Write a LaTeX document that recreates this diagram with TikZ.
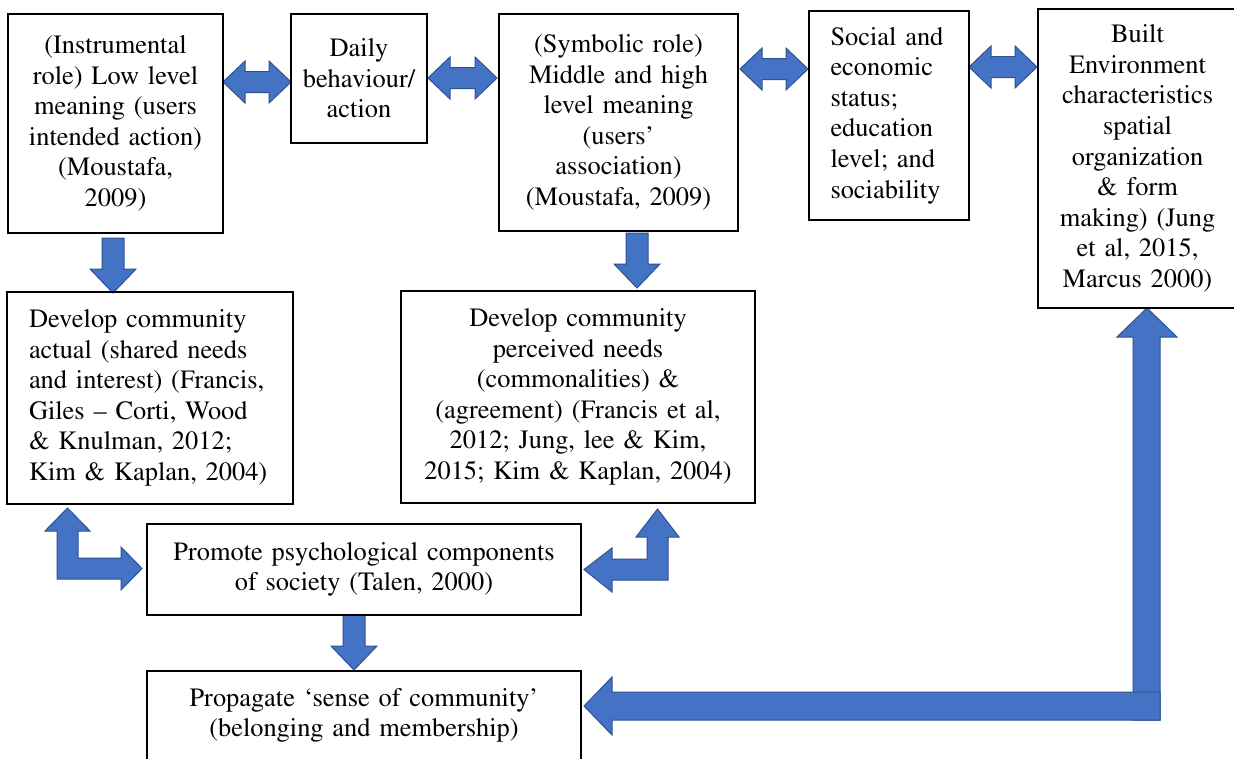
\documentclass[tikz,border=0pt]{standalone}
\usepackage[T1]{fontenc}
\renewcommand{\rmdefault}{ptm}
\definecolor{arrfill}{RGB}{68,114,196}
\definecolor{arrline}{RGB}{47,82,143}
\tikzset{
  box/.style={draw=black, line width=2pt, inner sep=0pt, align=center,
    font=\fontsize{26.4}{30.6}\selectfont},
  barrow/.style={fill=arrfill, draw=arrline, line width=1pt},
}
% horizontal double block arrow: x1, x2, yc
\newcommand\HDouble[3]{%
  \pgfmathsetmacro\hdL{#2-#1}%
  \draw[barrow] (#1,#3) -- ++(22,-21) -- ++(0,10.5) -- ++(\hdL-44,0)
    -- ++(0,-10.5) -- ++(22,21) -- ++(-22,21) -- ++(0,-10.5)
    -- ++(-\hdL+44,0) -- ++(0,10.5) -- cycle;}
% vertical down block arrow: xc, ytop, ytip
\newcommand\VDown[3]{%
  \draw[barrow] (#1-11,#2) -- (#1+11,#2) -- (#1+11,#3-24) -- (#1+23,#3-24)
    -- (#1,#3) -- (#1-23,#3-24) -- (#1-11,#3-24) -- cycle;}
\begin{document}
\begin{tikzpicture}[x=1pt,y=-1pt]
\useasboundingbox (0,0) rectangle (1234,758);
\clip (0,0) rectangle (1234,758);
\fill[white] (0,0) rectangle (1234,758);

% ---- block arrows ----
\HDouble{223}{291}{82}
\HDouble{428}{497}{78}
\HDouble{740}{808}{69}
\HDouble{969}{1037}{67}
\VDown{113}{238}{293}
\VDown{637}{233}{288}
\VDown{354}{615}{670}
% L-shaped arrows
\draw[barrow] (67.5,508) -- (90,531) -- (78,531) -- (78,558) -- (121,558)
  -- (121,547) -- (142,568.5) -- (121,590) -- (121,579) -- (57,579)
  -- (57,531) -- (45,531) -- cycle;
\draw[barrow] (657.5,509) -- (679,537) -- (668,537) -- (668,580) -- (612,580)
  -- (612,592) -- (584,569.5) -- (612,548) -- (612,559) -- (647,559)
  -- (647,537) -- (636,537) -- cycle;
% big feedback arrow
\draw[barrow] (1133,720) -- (1133,337) -- (1117,337) -- (1147,308)
  -- (1177,337) -- (1160,337) -- (1160,720) -- cycle;
\draw[barrow] (1160,692) -- (612,692) -- (612,677) -- (584,706)
  -- (612,735) -- (612,720) -- (1160,720) -- cycle;

% ---- boxes ----
\node[box, minimum width=215pt, minimum height=219pt, text width=205pt] (A) at (115.5,123.5)
  {(Instrumental\\ role) Low level\\ meaning (users\\ intended action)\\ (Moustafa,\\ 2009)};
\node[box, minimum width=136pt, minimum height=129pt, text width=130pt] (B) at (359,78.5)
  {Daily\\ behaviour/\\ action};
\node[box, minimum width=239pt, minimum height=217pt, text width=230pt] (C) at (618.5,122.5)
  {(Symbolic role)\\ Middle and high\\ level meaning\\ (users'\\ association)\\ (Moustafa, 2009)};
\node[box, align=left, minimum width=160pt, minimum height=209pt, text width=117pt] (D) at (889,115.5)
  {\makebox[117pt][s]{Social and}\\ economic\\ status;\\ education\\ \makebox[117pt][s]{level; and}\\ sociability};
\node[box, minimum width=199pt, minimum height=299pt, text width=190pt] (E) at (1137.5,158.5)
  {Built\\ Environment\\ characteristics\\ spatial\\ organization\\ \& form\\ making) (Jung\\ et al, 2015,\\ Marcus 2000)};
\node[box, align=left, minimum width=286pt, minimum height=212pt, text width=242pt] (F) at (150,398)
  {Develop community\\ actual (shared needs\\ and interest) (Francis,\\ Giles -- Corti, Wood\\ \& Knulman, 2012;\\ Kim \& Kaplan, 2004)};
\node[box, minimum width=354pt, minimum height=212pt, text width=345pt] (G) at (578,397)
  {Develop community\\ perceived needs\\ (commonalities) \&\\ (agreement) (Francis et al,\\ 2012; Jung, lee \& Kim,\\ 2015; Kim \& Kaplan, 2004)};
\node[box, minimum width=434pt, minimum height=91pt, text width=425pt] (H) at (364,569.5)
  {Promote psychological components\\ of society (Talen, 2000)};
\node[box, minimum width=434pt, minimum height=89pt, text width=425pt] (I) at (364,715.5)
  {Propagate `sense of community'\\ (belonging and membership)};
\end{tikzpicture}
\end{document}
